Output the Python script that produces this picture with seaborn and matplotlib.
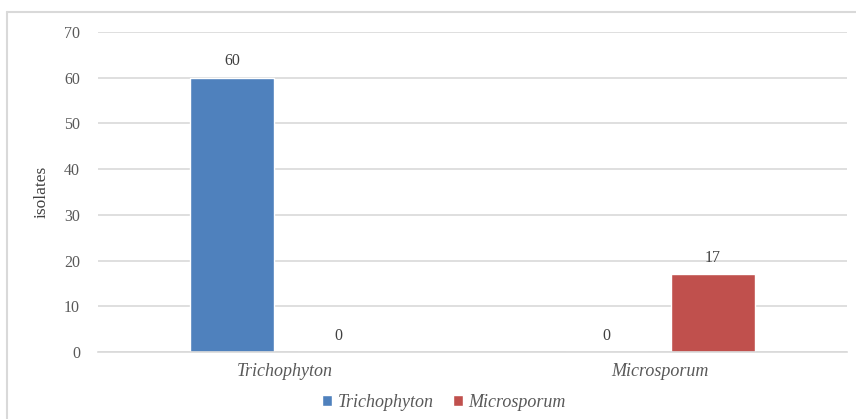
import matplotlib
matplotlib.use("Agg")
import matplotlib.pyplot as plt
from matplotlib.lines import Line2D
import seaborn as sns
import pandas as pd

# Isolate counts per genus, split by series
genera = ["Trichophyton", "Microsporum"]
series = ["Trichophyton", "Microsporum"]
trichophyton_counts = [60, 0]
microsporum_counts = [0, 17]
y_ticks = [0, 10, 20, 30, 40, 50, 60, 70]

df = pd.DataFrame({
    "genus": genera * 2,
    "series": [series[0]] * 2 + [series[1]] * 2,
    "isolates": trichophyton_counts + microsporum_counts,
})

sns.set_theme(style="white")
plt.rcParams["font.family"] = ["Liberation Serif", "DejaVu Serif"]

W, H = 856, 419
fig = plt.figure(figsize=(W / 100, H / 100), dpi=100)
ax = fig.add_axes([98 / W, 1 - 352 / H, (847 - 98) / W, (352 - 32) / H])

palette = {"Trichophyton": "#4F81BD", "Microsporum": "#C0504D"}
sns.barplot(data=df, x="genus", y="isolates", hue="series", order=genera,
            hue_order=series, palette=palette, width=0.569, gap=0.22,
            saturation=1, ax=ax, legend=True)

ax.set_ylim(0, 70)
ax.set_yticks(y_ticks)
ax.set_xlim(-0.5, 1.5)
ax.yaxis.grid(True, color="#D9D9D9", linewidth=1.2)
ax.set_axisbelow(True)
for side in ["top", "right", "left"]:
    ax.spines[side].set_visible(False)
ax.spines["bottom"].set_color("#D9D9D9")
ax.spines["bottom"].set_linewidth(1.2)

ax.tick_params(axis="y", length=0, pad=13, labelsize=11.5, labelcolor="#595959")
ax.tick_params(axis="x", length=0, pad=8, labelsize=13, labelcolor="#595959")
for lbl in ax.get_xticklabels():
    lbl.set_fontstyle("italic")
ax.set_xlabel("")
ax.set_ylabel("isolates", fontsize=12.5, color="#404040", labelpad=10)

for cont in ax.containers:
    ax.bar_label(cont, fmt="%d", padding=6, fontsize=11.5, color="#404040")

handles, labels = ax.get_legend_handles_labels()
ax.legend(handles, labels, loc="center", bbox_to_anchor=(444 / W, 1 - 402 / H),
          bbox_transform=fig.transFigure, ncol=2, frameon=False,
          handlelength=0.55, handleheight=0.55, handletextpad=0.3,
          columnspacing=1.1,
          prop={"style": "italic", "size": 13})
for t in ax.get_legend().get_texts():
    t.set_color("#595959")

# Light chart border (top and left edges)
fig.add_artist(Line2D([7.5 / W, 7.5 / W], [0, 1 - 12.5 / H],
                      transform=fig.transFigure, color="#D9D9D9", linewidth=1.5))
fig.add_artist(Line2D([7.5 / W, 1], [1 - 12.5 / H, 1 - 12.5 / H],
                      transform=fig.transFigure, color="#D9D9D9", linewidth=1.5))

fig.savefig("out.png", dpi=100)
